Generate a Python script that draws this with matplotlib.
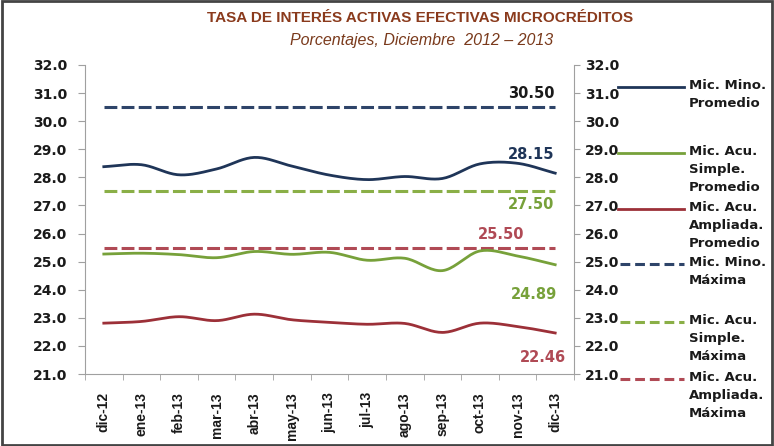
import numpy as np
import matplotlib
matplotlib.use('Agg')
import matplotlib.pyplot as plt
from matplotlib.lines import Line2D
from matplotlib.patches import Rectangle

# Data
meses = ['dic-12', 'ene-13', 'feb-13', 'mar-13', 'abr-13', 'may-13', 'jun-13',
         'jul-13', 'ago-13', 'sep-13', 'oct-13', 'nov-13', 'dic-13']
minorista_prom = [28.38, 28.45, 28.09, 28.30, 28.71, 28.40, 28.08,
                  27.92, 28.03, 27.96, 28.48, 28.50, 28.15]
simple_prom = [25.27, 25.30, 25.25, 25.14, 25.36, 25.26, 25.33,
               25.05, 25.12, 24.68, 25.38, 25.20, 24.89]
ampliada_prom = [22.81, 22.87, 23.04, 22.90, 23.13, 22.93, 22.84,
                 22.77, 22.80, 22.48, 22.81, 22.69, 22.46]
minorista_max = 30.50
simple_max = 27.50
ampliada_max = 25.50

c_blue = '#1f3558'
c_green = '#77a13a'
c_red = '#9c3038'
c_blue_d = '#2e4469'
c_green_d = '#8aaf47'
c_red_d = '#b04a55'
c_txt = '#1a1a1a'

fig = plt.figure(figsize=(7.74, 4.46), dpi=100)
fig.patch.set_facecolor('white')
ax = fig.add_axes([85/774, 1-374/446, (574-85)/774, (374-65)/446])
x = np.arange(len(meses))

def smooth(xs, ys, n=20):
    # Catmull-Rom style smoothing like the spreadsheet "smoothed line"
    xs = np.asarray(xs, float); ys = np.asarray(ys, float)
    px = np.concatenate([[2*xs[0]-xs[1]], xs, [2*xs[-1]-xs[-2]]])
    py = np.concatenate([[2*ys[0]-ys[1]], ys, [2*ys[-1]-ys[-2]]])
    ox, oy = [], []
    t = np.linspace(0, 1, n, endpoint=False)
    for i in range(1, len(px)-2):
        for arr, out in ((px, ox), (py, oy)):
            p0, p1, p2, p3 = arr[i-1], arr[i], arr[i+1], arr[i+2]
            out.extend(0.5*((2*p1) + (-p0+p2)*t + (2*p0-5*p1+4*p2-p3)*t**2
                            + (-p0+3*p1-3*p2+p3)*t**3))
    ox.append(xs[-1]); oy.append(ys[-1])
    return ox, oy

dash = (4.2, 1.4)
ax.plot(x, [minorista_max]*len(x), color=c_blue_d, lw=2.2, dashes=dash)
ax.plot(x, [simple_max]*len(x), color=c_green_d, lw=2.2, dashes=dash)
ax.plot(x, [ampliada_max]*len(x), color=c_red_d, lw=2.2, dashes=dash)
ax.plot(*smooth(x, minorista_prom), color=c_blue, lw=2)
ax.plot(*smooth(x, simple_prom), color=c_green, lw=2)
ax.plot(*smooth(x, ampliada_prom), color=c_red, lw=2)

ax.set_xlim(-0.5, len(meses)-0.5)
ax.set_ylim(21, 32)
ax.set_yticks(np.arange(21, 33, 1))
ax.set_yticklabels(['%.1f' % v for v in np.arange(21, 33, 1)])
ax.set_xticks(x)
ax.set_xticklabels(meses, rotation=90, fontfamily='Liberation Sans',
                   fontweight='bold', fontsize=10, color=c_txt)
ax.set_xticks(np.arange(-0.5, len(meses), 1), minor=True)
ax.tick_params(axis='x', which='major', length=0, pad=13)
ax.tick_params(axis='x', which='minor', length=4, color='#a0a0a0')
ax.tick_params(axis='y', length=5, pad=8, color='#a0a0a0',
               labelsize=10, labelcolor=c_txt)
for lab in ax.get_yticklabels():
    lab.set_fontweight('bold')
for s in ['top', 'right']:
    ax.spines[s].set_visible(False)
for s in ['left', 'bottom']:
    ax.spines[s].set_color('#a0a0a0')
ax.patch.set_alpha(0)

ax2 = ax.twinx()
ax2.set_ylim(21, 32)
ax2.set_yticks(np.arange(21, 33, 1))
ax2.set_yticklabels(['%.1f' % v for v in np.arange(21, 33, 1)])
ax2.tick_params(axis='y', length=4, pad=4, color='#a0a0a0',
                labelsize=10, labelcolor=c_txt)
for lab in ax2.get_yticklabels():
    lab.set_fontweight('bold')
for s in ['top', 'left', 'bottom']:
    ax2.spines[s].set_visible(False)
ax2.spines['right'].set_color('#a0a0a0')

# value labels
kw = dict(fontsize=10.5, fontweight='bold', ha='right', va='center')
last = len(meses) - 1
ax.text(last-0.03, minorista_max+0.5, '%.2f' % minorista_max, color=c_txt, **kw)
ax.text(last-0.03, minorista_prom[-1]+0.65, '%.2f' % minorista_prom[-1], color=c_blue, **kw)
ax.text(last-0.03, simple_max-0.48, '%.2f' % simple_max, color=c_green, **kw)
ax.text(last-0.83, ampliada_max+0.45, '%.2f' % ampliada_max, color=c_red_d, **kw)
ax.text(last+0.05, simple_prom[-1]-1.07, '%.2f' % simple_prom[-1], color=c_green, **kw)
ax.text(last+0.3, ampliada_prom[-1]-0.89, '%.2f' % ampliada_prom[-1], color=c_red_d, **kw)

# titles
fig.text(420/774, 1-18/446, 'TASA DE INTERÉS ACTIVAS EFECTIVAS MICROCRÉDITOS',
         ha='center', va='center', fontsize=11, fontweight='bold',
         color='#8a3a1c', fontfamily='Liberation Sans')
fig.text(422/774, 1-40/446, 'Porcentajes, Diciembre  2012 \u2013 2013',
         ha='center', va='center', fontsize=11.5, fontstyle='italic',
         color='#7a3a1c', fontfamily='Liberation Sans')

# legend drawn by hand
leg_items = [
    ('Mic. Mino.\nPromedio', c_blue, '-', 87),
    ('Mic. Acu.\nSimple.\nPromedio', c_green, '-', 153),
    ('Mic. Acu.\nAmpliada.\nPromedio', c_red, '-', 209),
    ('Mic. Mino.\nMáxima', c_blue_d, '--', 264),
    ('Mic. Acu.\nSimple.\nMáxima', c_green_d, '--', 322),
    ('Mic. Acu.\nAmpliada.\nMáxima', c_red_d, '--', 379),
]
for label, col, ls, ypx in leg_items:
    yf = 1 - ypx/446
    if ls == '-':
        ln = Line2D([618/774, 684/774], [yf, yf], color=col, lw=2,
                    transform=fig.transFigure)
    else:
        ln = Line2D([620/774, 684/774], [yf, yf], color=col, lw=2.2,
                    dashes=(3.2, 1.6), transform=fig.transFigure)
    fig.add_artist(ln)
    fig.text(689/774, yf + 8/446, label, ha='left', va='top', fontsize=9.5,
             fontweight='bold', color=c_txt, linespacing=1.5)

fig.add_artist(Rectangle((0.002, 0.003), 0.996, 0.994, fill=False,
                         edgecolor='#444444', lw=2, transform=fig.transFigure))

fig.savefig('out.png', dpi=100)
